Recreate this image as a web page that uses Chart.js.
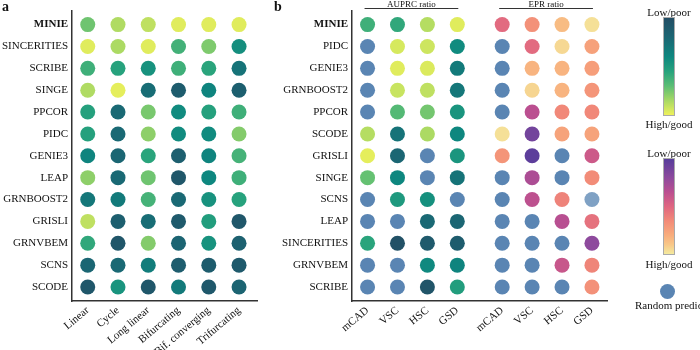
<!DOCTYPE html>
<html><head><meta charset="utf-8">
<script src="https://cdn.jsdelivr.net/npm/chart.js@4"></script>
<style>
body{margin:0;background:#fff;width:700px;height:350px;overflow:hidden;position:relative;font-family:"Liberation Serif",serif;color:#111;}
canvas{position:absolute;top:0;}
.lbl{position:absolute;font-size:11px;white-space:nowrap;transform:translate(-50%,-50%);}
.pl{position:absolute;font-size:14px;font-weight:bold;}
.cbar{position:absolute;border:0.5px solid #aaa;box-sizing:border-box;}
</style></head><body>
<canvas id="ca" width="265" height="350" style="left:0"></canvas>
<canvas id="cb" width="350" height="350" style="left:265px"></canvas>
<div class="pl" style="left:2px;top:-1px">a</div>
<div class="pl" style="left:274px;top:-1px">b</div>
<div class="lbl" style="left:669px;top:12px">Low/poor</div>
<div class="cbar" id="bar1" style="left:663px;top:17px;width:12px;height:99px"></div>
<div class="lbl" style="left:669px;top:124px">High/good</div>
<div class="lbl" style="left:669px;top:153px">Low/poor</div>
<div class="cbar" id="bar2" style="left:663px;top:158px;width:12px;height:97px"></div>
<div class="lbl" style="left:669px;top:264px">High/good</div>
<div style="position:absolute;left:660px;top:284px;width:15px;height:15px;border-radius:50%;background:#5a85b3"></div>
<div style="position:absolute;left:635px;top:299px;font-size:11px;white-space:nowrap">Random predictor</div>
<script>
// ---------- DATA ----------
const R = 'random';      // random predictor
const RF = 'randomFaded';
// panel a (score: 1 = high/good, 0 = low/poor)
const aRows = ['MINIE','SINCERITIES','SCRIBE','SINGE','PPCOR','PIDC','GENIE3','LEAP','GRNBOOST2','GRISLI','GRNVBEM','SCNS','SCODE'];
const aCols = ['Linear','Cycle','Long linear','Bifurcating','Bif. converging','Trifurcating'];
const aLinear       = [0.74,0.97,0.62,0.87,0.54,0.54,0.38,0.80,0.30,0.90,0.58,0.20,0.08];
const aCycle        = [0.87,0.86,0.55,0.98,0.22,0.22,0.20,0.22,0.32,0.14,0.07,0.22,0.47];
const aLongLinear   = [0.90,0.97,0.46,0.24,0.76,0.80,0.56,0.74,0.64,0.24,0.78,0.34,0.08];
const aBifurcating  = [0.97,0.63,0.62,0.12,0.42,0.42,0.14,0.08,0.22,0.10,0.18,0.13,0.32];
const aBifConverg   = [0.97,0.77,0.56,0.38,0.54,0.42,0.38,0.40,0.46,0.52,0.46,0.12,0.09];
const aTrifurcating = [0.97,0.44,0.28,0.14,0.62,0.78,0.64,0.62,0.55,0.08,0.16,0.10,0.18];
const aSeries = [aLinear,aCycle,aLongLinear,aBifurcating,aBifConverg,aTrifurcating];

// panel b
const bRows = ['MINIE','PIDC','GENIE3','GRNBOOST2','PPCOR','SCODE','GRISLI','SINGE','SCNS','LEAP','SINCERITIES','GRNVBEM','SCRIBE'];
const bColLabels = ['mCAD','VSC','HSC','GSD','mCAD','VSC','HSC','GSD'];
const bGroups = ['AUPRC ratio','EPR ratio'];
const auprcMCAD = [0.62,R,R,R,R,0.88,0.98,0.72,R,R,0.56,R,R];
const auprcVSC  = [0.58,0.95,0.97,0.92,0.68,0.28,0.20,0.40,0.50,R,0.03,R,R];
const auprcHSC  = [0.88,0.93,0.96,0.90,0.75,0.86,R,R,0.45,0.22,0.10,0.41,0.06];
const auprcGSD  = [0.97,0.42,0.32,0.30,0.47,0.40,0.48,0.28,R,0.20,0.12,0.38,0.52];
const eprMCAD   = [0.52,R,R,R,R,0.97,0.70,R,R,R,R,R,R];
const eprVSC    = [0.68,0.52,0.83,0.94,0.35,0.10,0.02,0.30,0.36,R,R,R,R];
const eprHSC    = [0.86,0.95,0.83,0.83,0.64,0.76,R,R,0.62,0.34,R,0.40,R];
const eprGSD    = [0.97,0.75,0.74,0.70,0.64,0.76,0.42,0.66,RF,0.55,0.20,0.63,0.68];
const auprcSeries = [auprcMCAD,auprcVSC,auprcHSC,auprcGSD];
const eprSeries = [eprMCAD,eprVSC,eprHSC,eprGSD];

// ---------- COLOURS ----------
const cmapGreen = [[0,'#234d64'],[0.2,'#1b6673'],[0.4,'#0e877f'],[0.55,'#27a27d'],[0.7,'#5bbd74'],[0.85,'#a7d864'],[1,'#eef15b']];
const cmapWarm  = [[0,'#573d9b'],[0.2,'#8e4a9d'],[0.35,'#bb4f90'],[0.5,'#df6681'],[0.65,'#f28a78'],[0.8,'#f8ac7c'],[0.9,'#f8c788'],[1,'#f4ea9e']];
const RANDOM_COL = '#5a85b3', RANDOM_FADED = '#7fa1c4';
function hex(h){return [1,3,5].map(i=>parseInt(h.substr(i,2),16));}
function cmap(stops,t){
  t=Math.max(0,Math.min(1,t));
  for(let i=1;i<stops.length;i++){
    if(t<=stops[i][0]){
      const [t0,c0]=stops[i-1],[t1,c1]=stops[i];
      const f=(t-t0)/(t1-t0),a=hex(c0),b=hex(c1);
      return 'rgb('+a.map((v,k)=>Math.round(v+(b[k]-v)*f)).join(',')+')';
    }
  }
  return stops[stops.length-1][1];
}
function colorFor(v,stops){ if(v===R) return RANDOM_COL; if(v===RF) return RANDOM_FADED; return cmap(stops,v); }
// low/poor (t=0) at top, high/good (t=1) at bottom
function grad(stops){ return 'linear-gradient(to bottom,'+stops.map(s=>s[1]+' '+(s[0]*100)+'%').join(',')+')'; }
document.getElementById('bar1').style.background=grad(cmapGreen);
document.getElementById('bar2').style.background=grad(cmapWarm);

// ---------- CHART HELPERS ----------
const FONT='"Liberation Serif", serif';
function yScale(rows,width){
  return {type:'linear',reverse:true,min:-0.64,max:rows.length-1+0.64,
    afterBuildTicks:s=>{s.ticks=rows.map((_,i)=>({value:i}));},
    afterFit:s=>{s.width=width;},
    ticks:{callback:(v)=>rows[v],padding:4,color:'#111',autoSkip:false,
      font:(c)=>({family:FONT,size:11,weight:(c.tick&&c.tick.value===0)?'bold':'normal'})},
    grid:{display:false,drawTicks:false},border:{display:true,color:'#333',width:1.5}};
}
function xScale(positions,labels,min,max){
  return {type:'linear',min:min,max:max,
    afterBuildTicks:s=>{s.ticks=positions.map(p=>({value:p}));},
    afterFit:s=>{s.height=49;},
    ticks:{callback:(v,i)=>labels[i],minRotation:40,maxRotation:40,autoSkip:false,padding:3,color:'#111',font:{family:FONT,size:11}},
    grid:{display:false,drawTicks:false},border:{display:true,color:'#333',width:1.5}};
}
function points(series,xs,stops){
  const pts=[];
  series.forEach((col,ci)=>col.forEach((v,ri)=>pts.push({x:xs[ci],y:ri,v:v,stops:stops})));
  return pts;
}
const common={responsive:false,animation:false,events:[],
  plugins:{legend:{display:false},tooltip:{enabled:false}}};
function ds(pts){
  return {data:pts,pointRadius:7.5,pointBorderWidth:0,
    pointBackgroundColor:(c)=>c.raw?colorFor(c.raw.v,c.raw.stops):'#000'};
}

// ---------- PANEL A ----------
const aX=aCols.map((_,i)=>i);
new Chart(document.getElementById('ca'),{type:'scatter',
  data:{datasets:[ds(points(aSeries,aX,cmapGreen))]},
  options:Object.assign({},common,{layout:{padding:{top:10,right:3,left:0,bottom:0}},
    scales:{x:xScale(aX,aCols,-0.52,5.61),y:yScale(aRows,72)}})});

// ---------- PANEL B ----------
const bX=[0,1,2,3,4.5,5.5,6.5,7.5];
const groupTitles={id:'groupTitles',afterDraw(chart){
  const c=chart.ctx,xs=chart.scales.x;
  [[bGroups[0],bX[0],bX[3]],[bGroups[1],bX[4],bX[7]]].forEach(([t,a,b])=>{
    const x1=xs.getPixelForValue(a)-3,x2=xs.getPixelForValue(b)+1;
    c.save();c.strokeStyle='#333';c.lineWidth=1;c.beginPath();c.moveTo(x1,8.5);c.lineTo(x2,8.5);c.stroke();
    c.fillStyle='#111';c.font='9px '+FONT;c.textAlign='center';c.textBaseline='alphabetic';
    c.fillText(t,(x1+x2)/2,6.5);c.restore();
  });
}};
new Chart(document.getElementById('cb'),{type:'scatter',
  data:{datasets:[ds(points(auprcSeries,bX.slice(0,4),cmapGreen)),ds(points(eprSeries,bX.slice(4),cmapWarm))]},
  options:Object.assign({},common,{layout:{padding:{top:10,right:2,left:0,bottom:0}},
    scales:{x:xScale(bX,bColLabels,-0.52,8.02),y:yScale(bRows,87)}}),
  plugins:[groupTitles]});
</script>
</body></html>
